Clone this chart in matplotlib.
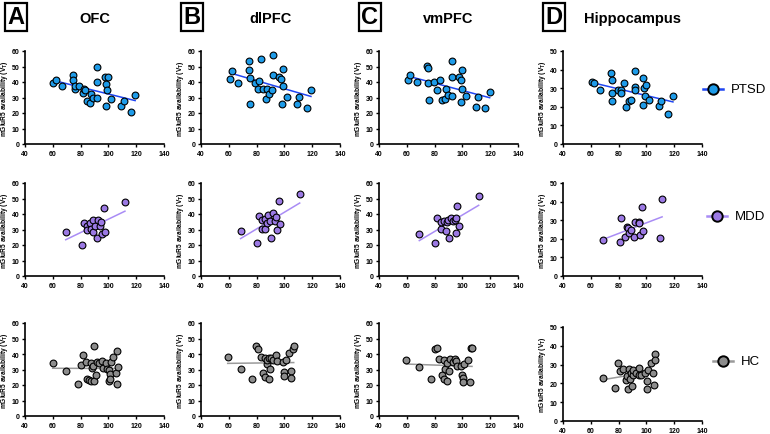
import matplotlib
matplotlib.use("Agg")
import matplotlib.pyplot as plt
from matplotlib.lines import Line2D
import numpy as np

plt.rcParams["font.family"] = ["Liberation Sans", "DejaVu Sans"]

regions = ["OFC", "dlPFC", "vmPFC", "Hippocampus"]
letters = ["A", "B", "C", "D"]
groups = ["PTSD", "MDD", "HC"]

# PTSD
ofc_ptsd_x = [60.5, 62.2, 66.6, 74.8, 74.8, 75.7, 76.2, 79.1, 81.5, 82.3, 83.5, 84.7, 86.9, 87.7, 88.8, 91.7, 91.9, 91.9, 97.2, 98.5, 98.9, 99.7, 98.5, 102.1, 109.3, 111.0, 116.1, 119.2]
ofc_ptsd_y = [39.2, 41.6, 37.3, 44.6, 41.1, 35.8, 37.5, 37.1, 33.2, 35.8, 34.9, 27.9, 26.4, 32.1, 29.4, 29.4, 49.9, 40.1, 43.3, 39.0, 34.9, 43.3, 24.6, 28.9, 24.2, 27.9, 20.4, 31.9]
dlpfc_ptsd_x = [60.6, 62.1, 66.4, 74.5, 74.5, 75.3, 75.3, 79.1, 81.5, 81.2, 83.4, 84.8, 86.8, 87.7, 88.7, 91.6, 91.6, 91.3, 96.4, 97.8, 98.0, 99.2, 98.8, 101.6, 108.8, 110.5, 116.0, 119.1]
dlpfc_ptsd_y = [42.2, 47.4, 39.2, 53.8, 48.0, 42.6, 26.1, 39.2, 40.9, 35.8, 54.6, 35.8, 28.9, 35.8, 32.1, 57.2, 44.8, 34.9, 43.5, 42.2, 25.5, 48.2, 37.5, 30.4, 26.1, 30.6, 23.1, 34.7]
vmpfc_ptsd_x = [61.1, 62.5, 67.1, 74.8, 75.0, 75.5, 76.0, 79.3, 81.7, 84.1, 85.3, 87.5, 88.0, 89.4, 92.3, 92.3, 92.3, 97.6, 98.8, 98.8, 99.5, 100.0, 102.3, 109.5, 111.0, 116.3, 119.6]
vmpfc_ptsd_y = [41.1, 44.4, 40.1, 50.4, 48.9, 39.6, 28.3, 40.1, 34.9, 41.4, 28.3, 28.9, 35.8, 31.7, 31.1, 53.4, 43.5, 43.5, 41.1, 27.2, 35.8, 47.6, 31.1, 23.6, 30.6, 23.1, 33.6]
hipp_ptsd_x = [60.9, 62.3, 66.8, 74.7, 74.9, 75.4, 75.6, 79.4, 81.8, 81.6, 84.0, 85.4, 87.7, 88.9, 92.0, 92.0, 91.6, 97.2, 97.9, 98.4, 99.4, 99.1, 102.0, 109.1, 110.5, 115.8, 119.1]
hipp_ptsd_y = [33.4, 33.0, 28.9, 38.4, 34.3, 27.5, 23.2, 29.1, 28.9, 27.5, 33.0, 20.0, 23.2, 23.8, 39.1, 30.7, 29.1, 35.4, 20.9, 30.0, 31.6, 25.9, 23.8, 20.5, 22.9, 16.1, 25.9]

# MDD
ofc_mdd_x = [69.3, 81.0, 82.4, 84.8, 84.8, 86.8, 87.2, 88.7, 89.2, 90.3, 91.6, 92.3, 94.0, 94.7, 95.6, 97.1, 97.8, 111.9]
ofc_mdd_y = [28.4, 20.0, 34.2, 32.5, 29.7, 34.2, 30.3, 28.6, 36.1, 32.5, 24.7, 36.3, 32.0, 35.1, 27.3, 43.7, 28.4, 48.0]
dlpfc_mdd_x = [68.5, 80.5, 81.4, 83.8, 83.8, 85.8, 86.3, 87.7, 88.4, 89.6, 90.1, 91.6, 93.0, 94.0, 94.9, 96.1, 96.8, 111.0]
dlpfc_mdd_y = [29.2, 21.1, 38.5, 36.3, 30.1, 30.3, 36.8, 34.2, 39.4, 35.7, 24.3, 40.4, 35.7, 38.1, 29.9, 48.2, 33.3, 52.9]
vmpfc_mdd_x = [69.0, 80.5, 82.0, 84.4, 84.9, 86.8, 88.0, 89.0, 89.4, 90.6, 91.8, 93.2, 94.7, 95.2, 95.2, 96.4, 97.6, 111.7]
vmpfc_mdd_y = [27.1, 21.1, 37.2, 30.1, 34.6, 35.5, 29.2, 34.6, 35.9, 24.3, 37.4, 35.7, 36.3, 37.2, 27.7, 44.9, 32.3, 51.8]
hipp_mdd_x = [69.0, 80.9, 81.8, 84.4, 86.1, 86.8, 87.7, 88.9, 90.8, 92.0, 94.4, 94.9, 95.6, 96.5, 97.5, 110.1, 111.3]
hipp_mdd_y = [19.5, 18.1, 31.0, 21.1, 26.5, 25.6, 23.1, 24.7, 21.2, 29.2, 29.2, 28.5, 21.9, 37.3, 24.2, 20.3, 41.2]

# HC
ofc_hc_x = [59.9, 69.5, 77.9, 80.3, 81.5, 83.6, 84.8, 86.3, 87.2, 87.9, 87.5, 88.7, 89.7, 89.9, 91.1, 91.6, 93.5, 95.2, 95.9, 98.3, 99.2, 100.2, 100.2, 101.2, 101.2, 101.6, 103.5, 105.2, 105.9, 106.4, 107.1]
ofc_hc_y = [34.4, 29.0, 20.9, 32.9, 39.4, 35.1, 23.9, 23.4, 34.2, 30.8, 22.6, 32.5, 44.9, 22.4, 26.5, 35.1, 34.2, 35.7, 30.8, 34.2, 30.3, 22.6, 29.9, 27.1, 23.9, 35.1, 38.1, 27.7, 20.9, 41.9, 31.4]
dlpfc_hc_x = [59.2, 68.5, 76.9, 79.3, 81.0, 82.9, 84.8, 86.0, 86.3, 87.2, 87.7, 88.9, 88.9, 89.9, 90.6, 92.0, 94.0, 94.9, 98.8, 99.7, 99.7, 101.2, 103.1, 105.0, 105.0, 106.0, 106.7]
dlpfc_hc_y = [37.8, 30.3, 24.1, 44.9, 43.2, 38.3, 27.7, 37.6, 24.9, 33.8, 35.9, 37.6, 23.9, 30.3, 37.6, 36.3, 39.4, 35.7, 34.6, 28.6, 25.6, 35.9, 40.6, 29.0, 24.3, 43.2, 44.9]
vmpfc_hc_x = [59.7, 69.0, 77.4, 80.0, 81.5, 83.2, 85.6, 86.8, 87.0, 87.8, 89.2, 89.2, 90.4, 91.1, 93.0, 94.7, 95.4, 95.9, 99.0, 100.0, 100.2, 100.2, 101.4, 103.8, 105.4, 106.2, 106.9]
vmpfc_hc_y = [36.3, 31.4, 23.9, 43.2, 43.7, 36.6, 26.7, 23.9, 36.3, 30.3, 34.2, 22.8, 29.0, 36.8, 34.6, 36.8, 35.7, 32.0, 32.5, 26.5, 24.3, 21.7, 33.3, 36.1, 21.7, 43.7, 43.7]
hipp_hc_x = [69.0, 77.1, 79.9, 81.1, 83.0, 85.4, 86.3, 86.8, 87.7, 88.2, 89.2, 89.6, 90.6, 90.6, 92.5, 94.4, 94.9, 96.1, 99.1, 100.1, 100.3, 100.8, 103.2, 105.1, 105.3, 106.0, 106.5]
hipp_hc_y = [23.0, 17.7, 30.7, 26.6, 27.8, 21.8, 24.1, 17.2, 27.5, 22.5, 25.4, 18.6, 24.3, 27.3, 25.7, 24.3, 28.4, 24.3, 25.4, 21.3, 17.2, 26.9, 30.7, 25.7, 19.0, 35.5, 32.4]

panels = [
    [(ofc_ptsd_x, ofc_ptsd_y), (dlpfc_ptsd_x, dlpfc_ptsd_y), (vmpfc_ptsd_x, vmpfc_ptsd_y), (hipp_ptsd_x, hipp_ptsd_y)],
    [(ofc_mdd_x, ofc_mdd_y), (dlpfc_mdd_x, dlpfc_mdd_y), (vmpfc_mdd_x, vmpfc_mdd_y), (hipp_mdd_x, hipp_mdd_y)],
    [(ofc_hc_x, ofc_hc_y), (dlpfc_hc_x, dlpfc_hc_y), (vmpfc_hc_x, vmpfc_hc_y), (hipp_hc_x, hipp_hc_y)],
]

fill_colors = ["#1e9be8", "#9b79e3", "#8c8c8c"]
line_colors = ["#1f45f2", "#a98cf5", "#9a9a9a"]

W, H = 770, 435
fig = plt.figure(figsize=(7.7, 4.35), dpi=100)

col_left = [25, 201, 379, 563]
row_box = [(52, 145), (184, 277), (324, 417)]
ax_w = 139
# legend key positions (px): line start, marker x, text x, y
legend_pos = [(703, 713, 731, 90), (707, 717, 735, 217), (713, 723, 741, 362)]

for r in range(3):
    for c in range(4):
        top, bot = row_box[r]
        if r == 2 and c == 3:
            top, bot = 328, 422
        ax = fig.add_axes([col_left[c] / W, 1 - bot / H, ax_w / W, (bot - top) / H])
        x, y = panels[r][c]
        x = np.array(x)
        y = np.array(y)
        k, b = np.polyfit(x, y, 1)
        xs = np.array([x.min(), x.max()])
        ax.plot(xs, k * xs + b, color=line_colors[r], lw=1.1, zorder=2)
        ax.scatter(x, y, s=24, color=fill_colors[r], edgecolor="black", linewidth=0.8, zorder=3)
        ymax = 50 if c == 3 else 60
        ax.set_xlim(40, 140)
        ax.set_ylim(0, ymax)
        ax.set_xticks(range(40, 141, 20))
        ax.set_yticks(range(0, ymax + 1, 10))
        for s in ["top", "right"]:
            ax.spines[s].set_visible(False)
        for s in ["left", "bottom"]:
            ax.spines[s].set_linewidth(1.2)
        ax.tick_params(length=2.5, width=1.0, pad=1.5, labelsize=5)
        for lab in ax.get_xticklabels() + ax.get_yticklabels():
            lab.set_fontweight("bold")
        ax.set_ylabel("mGluR5 availability (V$_\\mathregular{T}$)", fontsize=4.8,
                      fontweight="bold")
        ax.yaxis.set_label_coords(-0.105, 0.5)
        if r == 0:
            ax.set_title(regions[c], fontsize=10.5, fontweight="bold", pad=0, y=1.31)
            fig.text((col_left[c] - 9) / W, 1 - 18 / H, letters[c], fontsize=17,
                     fontweight="bold", ha="center", va="center",
                     bbox=dict(boxstyle="square,pad=0.12", fc="white", ec="black", lw=1.6))

    x0, xm, xt, yy = legend_pos[r]
    fy = 1 - yy / H
    fig.add_artist(Line2D([x0 / W, (2 * xm - x0) / W], [fy, fy], transform=fig.transFigure,
                          color=line_colors[r], lw=1.8))
    fig.add_artist(Line2D([xm / W], [fy], transform=fig.transFigure, marker="o",
                          markersize=7.5, markerfacecolor=fill_colors[r],
                          markeredgecolor="black", markeredgewidth=1.4))
    fig.text(xt / W, fy, groups[r], fontsize=9.5, ha="left", va="center")

fig.savefig("out.png", dpi=100)
